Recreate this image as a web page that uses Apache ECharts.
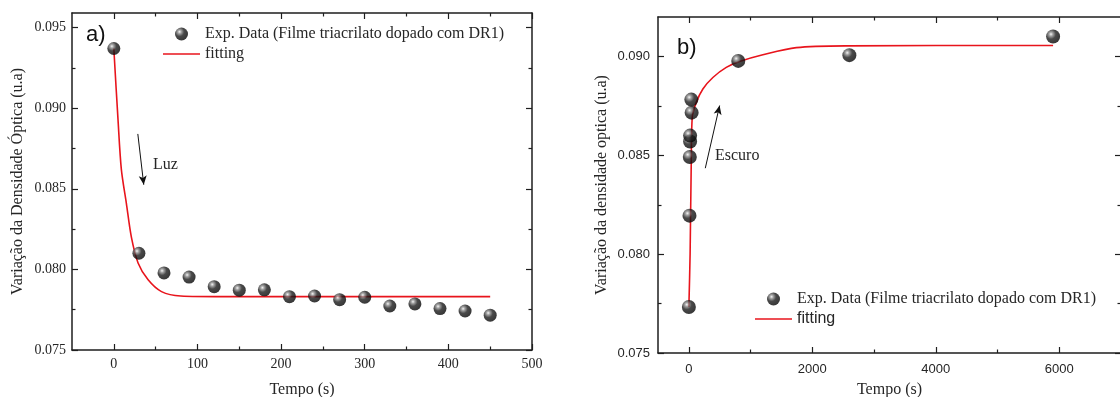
<!DOCTYPE html>
<html><head><meta charset="utf-8">
<script src="https://cdn.jsdelivr.net/npm/echarts@6/dist/echarts.min.js"></script>
<style>html,body{margin:0;padding:0;background:#fff}#c{width:1120px;height:397px}</style>
</head><body><div id="c"></div>
<script>
// ---------- data ----------
const EXP_NAME = 'Exp. Data (Filme triacrilato dopado com DR1)';
const FIT_NAME = 'fitting';

// Panel a) (light)
const aTime = [0, 30, 60, 90, 120, 150, 180, 210, 240, 270, 300, 330, 360, 390, 420, 450];
const aExp  = [0.0937, 0.0810, 0.07978, 0.07952, 0.07893, 0.07871, 0.07873, 0.07831, 0.07835, 0.07812, 0.07827, 0.07773, 0.07786, 0.07757, 0.07742, 0.07716];
const aFitTime = [0, 5, 9, 15, 21, 29, 41, 57, 80, 130, 450];
const aFit     = [0.0937, 0.0893, 0.0862, 0.0841, 0.0820, 0.0804, 0.07935, 0.07862, 0.07835, 0.07831, 0.07831];
const aXLabels = [0, 100, 200, 300, 400, 500];
const aXMinor  = [50, 150, 250, 350, 450];
const aYLabels = [0.075, 0.080, 0.085, 0.090, 0.095];
const aYMinor  = [0.0775, 0.0825, 0.0875, 0.0925];

// Panel b) (dark)
const bTime = [0, 10, 15, 20, 20, 45, 40, 800, 2600, 5900];
const bExp  = [0.07733, 0.08195, 0.08492, 0.08570, 0.08600, 0.08716, 0.08782, 0.08978, 0.09007, 0.09101];
const bFitTime = [0, 20, 39, 55, 120, 227, 389, 606, 822, 1199, 1741, 2551, 5900];
const bFit     = [0.07733, 0.0800, 0.08474, 0.08693, 0.08768, 0.08836, 0.08894, 0.08945, 0.08975, 0.09009, 0.09045, 0.09054, 0.09056];
const bXLabels = [0, 2000, 4000, 6000];
const bXMinor  = [1000, 3000, 5000];
const bYLabels = [0.075, 0.080, 0.085, 0.090];
const bYMinor  = [0.0775, 0.0825, 0.0875];

// ---------- styles ----------
const SERIF = '"Liberation Serif","Times New Roman",serif';
const SANS = '"Liberation Sans",Arial,sans-serif';
const AX = '#1e1e1e';
const TXT = '#262626';
const RED = '#e8141c';
const ball = {type:'radial', x:0.35, y:0.33, r:0.7, colorStops:[
  {offset:0, color:'#f2f2f2'}, {offset:0.2, color:'#8a8a8a'}, {offset:0.5, color:'#1c1c1c'}, {offset:1, color:'#050505'}]};
const LINE_ICON = 'path://M0,0L37,0L37,1.6L0,1.6Z';

function zip(xs, ys){ return xs.map((x,i)=>[x, ys[i]]); }
function fmt3(v){ return v.toFixed(3); }
function plain(v){ return String(v); }

function axis(dim, g, pos, min, max, ticks, len, opts){
  opts = opts || {};
  const a = {
    type:'value', gridIndex:g, position:pos, min:min, max:max,
    axisLine:{show:!!opts.line, onZero:false, lineStyle:{color:AX, width:1.5}},
    axisTick:{show:true, inside:true, length:len, customValues:ticks, lineStyle:{color:AX, width:1.2}},
    axisLabel:{show:false},
    splitLine:{show:false}, minorTick:{show:false}, minorSplitLine:{show:false}
  };
  if (opts.labels){
    a.axisLabel = {show:true, customValues:opts.labels, margin:opts.margin, color:TXT,
      fontFamily:opts.font, fontSize:opts.fontSize, formatter:opts.formatter};
  }
  if (opts.name){
    a.name = opts.name; a.nameLocation = 'middle'; a.nameGap = opts.nameGap;
    if (dim === 'y') a.nameRotate = 90;
    a.nameTextStyle = {fontFamily:SERIF, fontSize:16, color:TXT};
  }
  return a;
}

const xAxes = [
  axis('x',0,'bottom',-50,500,aXLabels,6,{line:true,labels:aXLabels,margin:7,font:SERIF,fontSize:14,formatter:plain,name:'Tempo (s)',nameGap:32}),
  axis('x',0,'bottom',-50,500,aXMinor,3.5),
  axis('x',0,'top',-50,500,aXLabels,6,{line:true}),
  axis('x',0,'top',-50,500,aXMinor,3.5),
  axis('x',1,'bottom',-500,7000,bXLabels,6,{line:true,labels:bXLabels,margin:10,font:SANS,fontSize:13,formatter:plain,name:'Tempo (s)',nameGap:29}),
  axis('x',1,'bottom',-500,7000,bXMinor,3.5),
  axis('x',1,'top',-500,7000,bXLabels,6,{line:true}),
  axis('x',1,'top',-500,7000,bXMinor,3.5)
];
const yAxes = [
  axis('y',0,'left',0.075,0.0959,aYLabels,6,{line:true,labels:aYLabels,margin:6,font:SERIF,fontSize:14,formatter:fmt3,name:'Variação da Densidade Óptica (u.a)',nameGap:46}),
  axis('y',0,'left',0.075,0.0959,aYMinor,3.5),
  axis('y',0,'right',0.075,0.0959,aYLabels,6,{line:true}),
  axis('y',0,'right',0.075,0.0959,aYMinor,3.5),
  axis('y',1,'left',0.075,0.092,bYLabels,6,{line:true,labels:bYLabels,margin:8,font:SANS,fontSize:13,formatter:fmt3,name:'Variação da densidade optica (u.a)',nameGap:48}),
  axis('y',1,'left',0.075,0.092,bYMinor,3.5),
  axis('y',1,'right',0.075,0.092,bYLabels,6,{line:true}),
  axis('y',1,'right',0.075,0.092,bYMinor,3.5)
];

const arrowStyle = {color:'#111', width:1, type:'solid'};

const option = {
  animation:false,
  backgroundColor:'#fff',
  grid:[
    {left:72, top:13, right:588, bottom:47, containLabel:false, outerBoundsMode:'none'},
    {left:658, top:17, right:-1, bottom:44, containLabel:false, outerBoundsMode:'none'}
  ],
  xAxis:xAxes,
  yAxis:yAxes,
  legend:[
    {orient:'vertical', left:158, top:21, itemWidth:37, itemHeight:13, itemGap:4,
     selectedMode:false, textStyle:{fontFamily:SERIF, fontSize:16, color:TXT},
     data:[{name:EXP_NAME}, {name:FIT_NAME, icon:LINE_ICON}]},
    {orient:'vertical', left:750, top:286, itemWidth:37, itemHeight:13, itemGap:4,
     selectedMode:false, textStyle:{fontFamily:SERIF, fontSize:16, color:TXT},
     data:[{name:EXP_NAME}, {name:FIT_NAME, icon:LINE_ICON, textStyle:{fontFamily:SANS, fontSize:16, color:TXT}}]}
  ],
  series:[
    {type:'line', name:FIT_NAME, xAxisIndex:0, yAxisIndex:0, data:zip(aFitTime,aFit),
     smooth:0.3, showSymbol:false, symbol:'none', z:2,
     lineStyle:{color:RED, width:1.6}, itemStyle:{color:RED},
     markLine:{silent:true, symbol:['none','arrow'], symbolSize:[6,9], label:{show:false}, lineStyle:arrowStyle,
       data:[[{coord:[28.7,0.0884]},{coord:[35.8,0.08525]}]]}},
    {type:'scatter', name:EXP_NAME, xAxisIndex:0, yAxisIndex:0, data:zip(aTime,aExp),
     symbol:'circle', symbolSize:13, z:3, itemStyle:{color:ball}},
    {type:'line', name:FIT_NAME, xAxisIndex:4, yAxisIndex:4, data:zip(bFitTime,bFit),
     smooth:0.3, showSymbol:false, symbol:'none', z:2,
     lineStyle:{color:RED, width:1.6}, itemStyle:{color:RED},
     markLine:{silent:true, symbol:['none','arrow'], symbolSize:[6,9], label:{show:false}, lineStyle:arrowStyle,
       data:[[{coord:[266,0.08435]},{coord:[498,0.08752]}]]}},
    {type:'scatter', name:EXP_NAME, xAxisIndex:4, yAxisIndex:4, data:zip(bTime,bExp),
     symbol:'circle', symbolSize:14, z:3, itemStyle:{color:ball}}
  ],
  graphic:[
    {type:'text', left:86, top:24, style:{text:'a)', font:'22px '+SANS, fill:'#111'}},
    {type:'text', left:677, top:37, style:{text:'b)', font:'22px '+SANS, fill:'#111'}},
    {type:'text', left:153, top:157, style:{text:'Luz', font:'16px '+SERIF, fill:TXT}},
    {type:'text', left:715, top:148, style:{text:'Escuro', font:'16px '+SERIF, fill:TXT}}
  ]
};
const chart = echarts.init(document.getElementById('c'), null, {renderer:'canvas'});
chart.setOption(option);
</script></body></html>
